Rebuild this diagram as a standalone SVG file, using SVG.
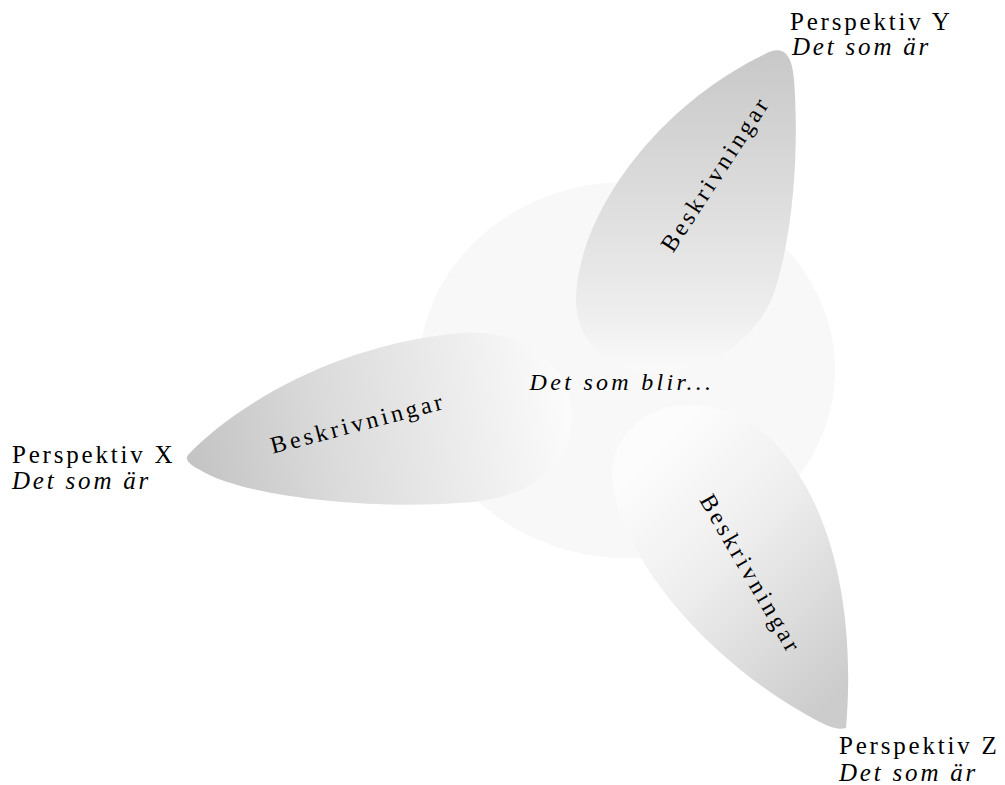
<svg xmlns="http://www.w3.org/2000/svg" width="1005" height="785" viewBox="0 0 1005 785">
  <style>
    .lbl { font-family: "Liberation Serif", "Times New Roman", serif; font-size: 25px; letter-spacing: 2.8px; fill: #000; }
    .it { font-style: italic; }
    .petal-text { font-family: "Liberation Serif", "Times New Roman", serif; font-size: 24px; letter-spacing: 3.4px; fill: #000; }
  </style>
  <defs>
    <linearGradient id="gx" gradientUnits="userSpaceOnUse" x1="195" y1="465" x2="565" y2="400">
      <stop offset="0" stop-color="#c4c4c4"/>
      <stop offset="0.35" stop-color="#dadada"/>
      <stop offset="0.65" stop-color="#e9e9e9"/>
      <stop offset="1" stop-color="#fbfbfb"/>
    </linearGradient>
    <linearGradient id="gy" gradientUnits="userSpaceOnUse" x1="700" y1="50" x2="700" y2="372">
      <stop offset="0" stop-color="#c8c8c8"/>
      <stop offset="0.45" stop-color="#dcdcdc"/>
      <stop offset="0.8" stop-color="#ededed"/>
      <stop offset="1" stop-color="#fafafa"/>
    </linearGradient>
    <linearGradient id="gz" gradientUnits="userSpaceOnUse" x1="640" y1="470" x2="850" y2="680">
      <stop offset="0" stop-color="#fcfcfc"/>
      <stop offset="0.4" stop-color="#eeeeee"/>
      <stop offset="1" stop-color="#cccccc"/>
    </linearGradient>
  </defs>

  <rect width="1005" height="785" fill="#ffffff"/>

  <!-- central area -->
  <g id="center">
    <ellipse cx="627" cy="370" rx="208" ry="188" fill="#f8f8f8"/>
  </g>

  <!-- petal X (left) -->
  <g id="petal-x">
    <path d="M188 455 C230 410 330 345 460 333 C530 328 572 370 572 415 C572 470 525 500 460 503 C360 510 240 495 200 470 C188 464 185 459 188 455 Z" fill="url(#gx)"/>
    <text class="petal-text" transform="translate(360 431) rotate(-14.7)" text-anchor="middle">Beskrivningar</text>
  </g>

  <!-- petal Y (top) -->
  <g id="petal-y">
    <path d="M765 54 C782 45 792 52 794 80 C798 130 797 220 775 290 C760 335 715 372 655 372 C605 370 576 340 576 300 C577 220 650 110 765 54 Z" fill="url(#gy)"/>
    <text class="petal-text" transform="translate(722 178) rotate(-57)" text-anchor="middle">Beskrivningar</text>
  </g>

  <!-- petal Z (bottom right) -->
  <g id="petal-z">
    <path d="M846 728 C852 660 848 560 805 485 C780 440 745 408 693 405 C640 404 612 440 612 475 C615 550 700 650 790 705 C815 720 835 732 846 728 Z" fill="url(#gz)"/>
    <text class="petal-text" transform="translate(744 578) rotate(60)" text-anchor="middle">Beskrivningar</text>
  </g>

  <g id="center-label">
    <text class="lbl it" x="622" y="390" text-anchor="middle" style="font-size:24px;letter-spacing:3.3px">Det som blir...</text>
  </g>

  <g id="label-x">
    <text class="lbl" x="12" y="463">Perspektiv X</text>
    <text class="lbl it" x="12" y="489">Det som är</text>
  </g>
  <g id="label-y">
    <text class="lbl" x="790" y="30">Perspektiv Y</text>
    <text class="lbl it" x="792" y="55">Det som är</text>
  </g>
  <g id="label-z">
    <text class="lbl" x="839" y="754">Perspektiv Z</text>
    <text class="lbl it" x="839" y="781">Det som är</text>
  </g>
</svg>
